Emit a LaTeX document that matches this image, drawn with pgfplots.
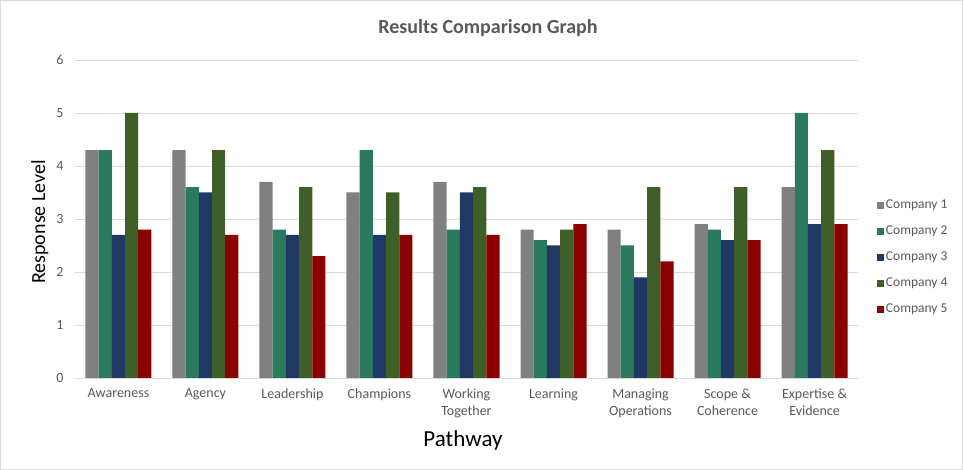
\documentclass[border=0pt]{standalone}
\usepackage{fontspec}
\setmainfont{Carlito}
\usepackage{pgfplots}
\pgfplotsset{compat=1.18}
\usepackage{pgfplotstable}

\definecolor{cgray}{HTML}{808080}
\definecolor{cteal}{HTML}{2A7A5E}
\definecolor{cnavy}{HTML}{203864}
\definecolor{cgreen}{HTML}{3F5F28}
\definecolor{cred}{HTML}{8B0000}
\definecolor{txt}{HTML}{595959}
\definecolor{grid}{HTML}{D9D9D9}

% columns: pathway index, company 1..5
\pgfplotstableread{
x  c1  c2  c3  c4  c5
0  4.3 4.3 2.7 5.0 2.8
1  4.3 3.6 3.5 4.3 2.7
2  3.7 2.8 2.7 3.6 2.3
3  3.5 4.3 2.7 3.5 2.7
4  3.7 2.8 3.5 3.6 2.7
5  2.8 2.6 2.5 2.8 2.9
6  2.8 2.5 1.9 3.6 2.2
7  2.9 2.8 2.6 3.6 2.6
8  3.6 5.0 2.9 4.3 2.9
}\results

\begin{document}
\begin{tikzpicture}
\draw[draw=grid, line width=0.8bp] (0.5bp,0.5bp) rectangle (962.5bp,469.5bp);
\begin{axis}[
  at={(75bp,92bp)}, anchor=south west,
  scale only axis, width=783bp, height=318bp,
  ybar=0pt, bar width=13.2bp,
  xmin=-0.5, xmax=8.5, ymin=0, ymax=6,
  xtick=data,
  xticklabels={Awareness, Agency, Leadership, Champions, {Working\\Together}, Learning, {Managing\\Operations}, {Scope \&\\Coherence}, {Expertise \&\\Evidence}},
  xticklabel style={align=center, font=\fontsize{14bp}{17bp}\selectfont, text=txt},
  yticklabel style={font=\fontsize{14bp}{17bp}\selectfont, text=txt},
  /pgf/number format/assume math mode=true,
  ytick={0,1,...,6},
  major tick length=0pt,
  ymajorgrids, grid style={draw=grid, line width=0.8bp},
  axis x line*=bottom, axis y line*=left,
  y axis line style={draw=none},
  x axis line style={draw=grid, line width=0.8bp, -},
  xticklabel shift=7bp, yticklabel shift=8bp,
  legend style={at={(1.02,0.38)}, anchor=west, draw=none, fill=none,
    font=\fontsize{13.5bp}{16bp}\selectfont, text=txt, row sep=11.8bp},
  legend cell align=left,
  legend image code/.code={\fill[#1] (0bp,-3.5bp) rectangle (7bp,3.5bp);},
]
\addplot[fill=cgray, draw=none] table[x=x, y=c1] {\results};
\addlegendentry{Company 1}
\addplot[fill=cteal, draw=none] table[x=x, y=c2] {\results};
\addlegendentry{Company 2}
\addplot[fill=cnavy, draw=none] table[x=x, y=c3] {\results};
\addlegendentry{Company 3}
\addplot[fill=cgreen, draw=none] table[x=x, y=c4] {\results};
\addlegendentry{Company 4}
\addplot[fill=cred, draw=none] table[x=x, y=c5] {\results};
\addlegendentry{Company 5}
\end{axis}
\node[font=\fontsize{20bp}{24bp}\selectfont\bfseries, text=txt] at (488bp,442bp) {Results Comparison Graph};
\node[font=\fontsize{20bp}{24bp}\selectfont, rotate=90] at (40bp,248bp) {Response Level};
\node[font=\fontsize{23bp}{26bp}\selectfont] at (463bp,30bp) {Pathway};
\end{tikzpicture}
\end{document}
